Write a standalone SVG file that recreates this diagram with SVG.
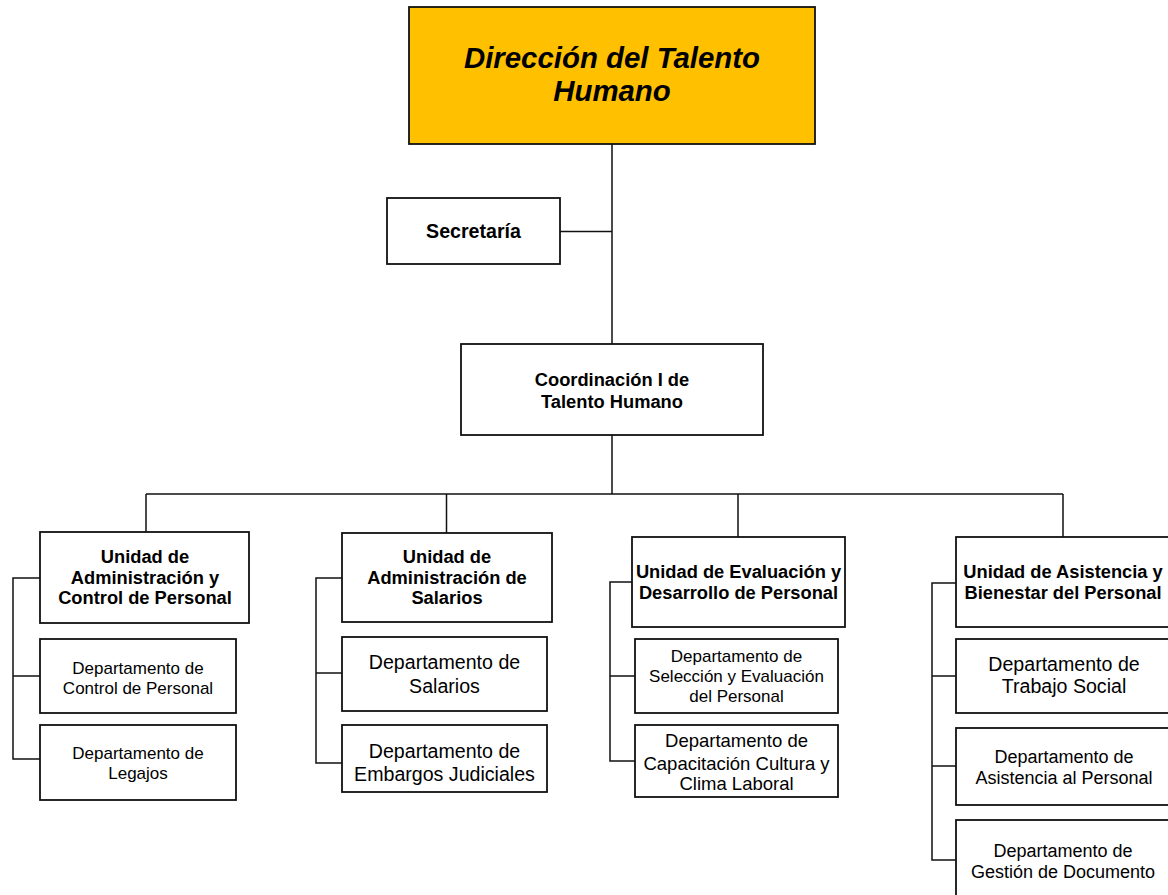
<svg xmlns="http://www.w3.org/2000/svg" width="1168" height="895" viewBox="0 0 1168 895">
<style>
  .box { fill: #ffffff; stroke: #111111; stroke-width: 1.8; }
  .top { fill: #FFC000; stroke: #111111; stroke-width: 1.8; }
  .ln { fill: none; stroke: #111111; stroke-width: 1.5; }
  text { font-family: "Liberation Sans", Arial, sans-serif; fill: #000000; text-anchor: middle; }
  .ttl { font-size: 29.4px; font-weight: bold; font-style: italic; }
  .b18 { font-size: 18.3px; font-weight: bold; }
  .b19 { font-size: 19.6px; font-weight: bold; }
  .r17 { font-size: 17px; }
  .r18 { font-size: 18px; }
  .r185 { font-size: 18.5px; }
  .r196 { font-size: 19.6px; }
</style>
<rect width="1168" height="895" fill="#ffffff"/>
<g id="connectors">
  <path class="ln" d="M612 144V344M560 231.5H612M612 435V494M146 494H1063M146 494V532M446.5 494V533M738 494V537M1063 494V537"/>
  <path class="ln" d="M40 578H13V759H40M13 676H40"/>
  <path class="ln" d="M342 578H316V763H342M316 673H342"/>
  <path class="ln" d="M632 582H610V761H635M610 676H635"/>
  <path class="ln" d="M956 583H932V860H956M932 676H956M932 766H956"/>
</g>
<g id="direccion">
  <rect class="top" x="409" y="7" width="406" height="137"/>
  <text class="ttl" x="612" y="68">Dirección del Talento</text>
  <text class="ttl" x="612" y="101">Humano</text>
</g>
<g id="secretaria">
  <rect class="box" x="387" y="198" width="173" height="66"/>
  <text class="b19" x="473.5" y="238">Secretaría</text>
</g>
<g id="coordinacion">
  <rect class="box" x="461" y="344" width="302" height="91"/>
  <text class="b18" x="612" y="386">Coordinación I de</text>
  <text class="b18" x="612" y="407.5">Talento Humano</text>
</g>
<g id="unidad-admin-control">
  <rect class="box" x="40" y="532" width="209" height="91"/>
  <text class="b18" x="145" y="563">Unidad de</text>
  <text class="b18" x="145" y="583.5">Administración y</text>
  <text class="b18" x="145" y="604">Control de Personal</text>
</g>
<g id="dep-control-personal">
  <rect class="box" x="40" y="639" width="196" height="74"/>
  <text class="r17" x="138" y="674">Departamento de</text>
  <text class="r17" x="138" y="693.5">Control de Personal</text>
</g>
<g id="dep-legajos">
  <rect class="box" x="40" y="725" width="196" height="75"/>
  <text class="r17" x="138" y="758.5">Departamento de</text>
  <text class="r17" x="138" y="778.5">Legajos</text>
</g>
<g id="unidad-admin-salarios">
  <rect class="box" x="342" y="533" width="210" height="89"/>
  <text class="b18" x="447" y="563">Unidad de</text>
  <text class="b18" x="447" y="583.5">Administración de</text>
  <text class="b18" x="447" y="604">Salarios</text>
</g>
<g id="dep-salarios">
  <rect class="box" x="342" y="637" width="205" height="74"/>
  <text class="r196" x="444.5" y="668.5">Departamento de</text>
  <text class="r196" x="444.5" y="693">Salarios</text>
</g>
<g id="dep-embargos">
  <rect class="box" x="342" y="725" width="205" height="67"/>
  <text class="r196" x="444.5" y="758">Departamento de</text>
  <text class="r196" x="444.5" y="781">Embargos Judiciales</text>
</g>
<g id="unidad-evaluacion">
  <rect class="box" x="632" y="537" width="213" height="90"/>
  <text class="b18" x="738.5" y="578">Unidad de Evaluación y</text>
  <text class="b18" x="738.5" y="599">Desarrollo de Personal</text>
</g>
<g id="dep-seleccion">
  <rect class="box" x="635" y="639" width="203" height="74"/>
  <text class="r17" x="736.5" y="662">Departamento de</text>
  <text class="r17" x="736.5" y="682">Selección y Evaluación</text>
  <text class="r17" x="736.5" y="702">del Personal</text>
</g>
<g id="dep-capacitacion">
  <rect class="box" x="635" y="725" width="203" height="72"/>
  <text class="r185" x="736.5" y="747">Departamento de</text>
  <text class="r185" x="736.5" y="769.5">Capacitación Cultura y</text>
  <text class="r185" x="736.5" y="790">Clima Laboral</text>
</g>
<g id="unidad-asistencia">
  <rect class="box" x="956" y="537" width="216" height="90"/>
  <text class="b18" x="1063" y="578">Unidad de Asistencia y</text>
  <text class="b18" x="1063" y="599">Bienestar del Personal</text>
</g>
<g id="dep-trabajo-social">
  <rect class="box" x="956" y="639" width="216" height="74"/>
  <text class="r196" x="1064" y="671">Departamento de</text>
  <text class="r196" x="1064" y="692.5">Trabajo Social</text>
</g>
<g id="dep-asistencia">
  <rect class="box" x="956" y="728" width="216" height="77"/>
  <text class="r18" x="1064" y="763">Departamento de</text>
  <text class="r18" x="1064" y="784">Asistencia al Personal</text>
</g>
<g id="dep-gestion">
  <rect class="box" x="956" y="820" width="216" height="80"/>
  <text class="r18" x="1063" y="856.5">Departamento de</text>
  <text class="r18" x="1063" y="878">Gestión de Documento</text>
</g>
</svg>
